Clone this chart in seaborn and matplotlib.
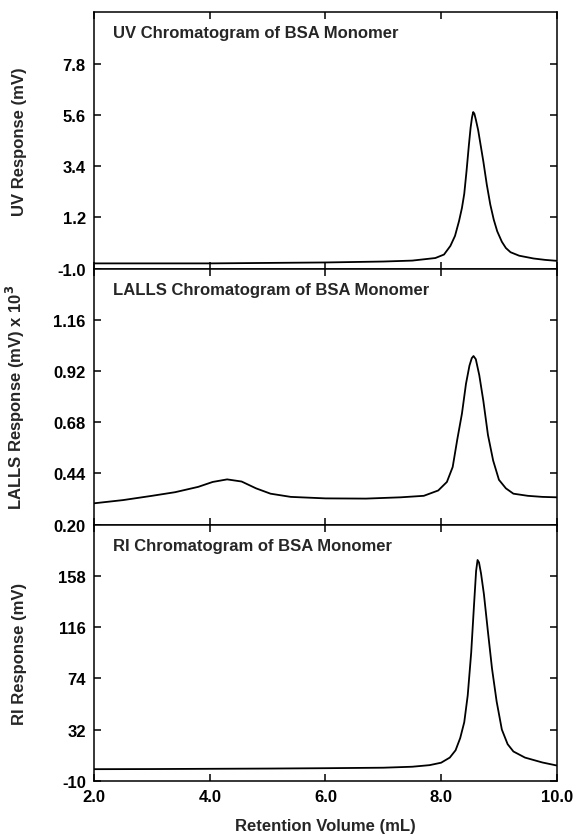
import matplotlib
matplotlib.use("Agg")
import matplotlib.pyplot as plt
import seaborn as sns
import pandas as pd

# chromatogram readings (retention volume in mL, detector response)
uv_volume = [2.0, 3.0, 4.0, 5.0, 6.0, 6.5, 7.0, 7.5, 7.9, 8.05, 8.16, 8.24,
             8.31, 8.36, 8.40, 8.44, 8.48, 8.51, 8.535, 8.555, 8.575, 8.60,
             8.64, 8.69, 8.73, 8.79, 8.85, 8.91, 8.97, 9.05, 9.12, 9.2, 9.35,
             9.6, 9.8, 10.0]
uv_response = [-0.78, -0.78, -0.78, -0.76, -0.74, -0.72, -0.70, -0.66, -0.55,
               -0.40, -0.03, 0.40, 1.04, 1.60, 2.21, 3.20, 4.30, 5.05, 5.50,
               5.72, 5.65, 5.40, 4.95, 4.20, 3.60, 2.60, 1.75, 1.10, 0.60,
               0.15, -0.12, -0.30, -0.45, -0.57, -0.63, -0.67]

lalls_volume = [2.0, 2.5, 3.0, 3.4, 3.8, 4.05, 4.3, 4.55, 4.8, 5.05, 5.4, 6.0,
                6.7, 7.3, 7.7, 7.95, 8.1, 8.2, 8.28, 8.36, 8.43, 8.49, 8.53,
                8.56, 8.60, 8.66, 8.73, 8.81, 8.90, 9.0, 9.12, 9.25, 9.5, 9.75,
                10.0]
lalls_response = [0.300, 0.315, 0.335, 0.352, 0.377, 0.400, 0.412, 0.402,
                  0.370, 0.345, 0.330, 0.323, 0.322, 0.328, 0.335, 0.360,
                  0.400, 0.470, 0.600, 0.720, 0.860, 0.945, 0.980, 0.990,
                  0.975, 0.900, 0.780, 0.620, 0.500, 0.410, 0.370, 0.345,
                  0.335, 0.330, 0.328]

ri_volume = [2.0, 3.0, 4.0, 5.0, 6.0, 7.0, 7.5, 7.8, 8.0, 8.15, 8.25, 8.33,
             8.40, 8.46, 8.52, 8.57, 8.605, 8.63, 8.655, 8.69, 8.74, 8.81,
             8.88, 8.96, 9.05, 9.15, 9.25, 9.45, 9.75, 10.0]
ri_response = [-0.5, -0.4, -0.2, 0.0, 0.3, 0.7, 1.5, 2.8, 4.8, 9, 15, 25, 38,
               60, 95, 135, 162, 171, 169, 160, 143, 112, 82, 55, 32, 20, 14,
               9, 5, 2.5]

x_ticks = [2.0, 4.0, 6.0, 8.0, 10.0]
x_labels = ["2.0", "4.0", "6.0", "8.0", "10.0"]

uv_ticks = [-1.0, 1.2, 3.4, 5.6, 7.8]
lalls_ticks = [0.20, 0.44, 0.68, 0.92, 1.16]
ri_ticks = [-10, 32, 74, 116, 158]

uv_labels = ["-1.0", "1.2", "3.4", "5.6", "7.8"]
lalls_labels = ["0.20", "0.44", "0.68", "0.92", "1.16"]
ri_labels = ["-10", "32", "74", "116", "158"]

panel_titles = ["UV Chromatogram of BSA Monomer",
                "LALLS Chromatogram of BSA Monomer",
                "RI Chromatogram of BSA Monomer"]
y_titles = ["UV Response (mV)", "LALLS Response (mV) x 10$^\\mathbf{3}$",
            "RI Response (mV)"]

sns.set_theme(style="ticks")
plt.rcParams["font.family"] = ["Liberation Sans", "DejaVu Sans"]
plt.rcParams["axes.unicode_minus"] = False
plt.rcParams["font.weight"] = "bold"

fig, axes = plt.subplots(3, 1, figsize=(5.74, 8.37), dpi=100, sharex=True)
fig.subplots_adjust(left=0.164, right=0.970, bottom=0.066, top=0.984,
                    hspace=0)

series = [
    (uv_volume, uv_response, (-1.0, 10.0), uv_ticks, uv_labels),
    (lalls_volume, lalls_response, (0.20, 1.40), lalls_ticks, lalls_labels),
    (ri_volume, ri_response, (-10, 200), ri_ticks, ri_labels),
]

for i, (ax, (vol, resp, ylim, yt, yl)) in enumerate(zip(axes, series)):
    df = pd.DataFrame({"volume": vol, "response": resp})
    sns.lineplot(data=df, x="volume", y="response", ax=ax, color="black",
                 lw=1.3)
    ax.set_xlim(2.0, 10.0)
    ax.set_ylim(*ylim)
    ax.set_yticks(yt)
    ax.set_yticklabels(yl, fontsize=12, fontweight="bold")
    ax.set_xticks(x_ticks)
    ax.tick_params(direction="in", length=5, width=1.1, top=True,
                   right=True, pad=6, colors="black")
    for s in ax.spines.values():
        s.set_linewidth(1.1)
        s.set_color("black")
    ax.set_ylabel(y_titles[i], fontsize=12, fontweight="bold")
    ax.yaxis.set_label_coords(-0.145, 0.5)
    ax.set_xlabel("")
    ax.text(0.04, 0.92, panel_titles[i], transform=ax.transAxes,
            fontsize=12, fontweight="bold", va="center", ha="left")

axes[2].set_xticklabels(x_labels, fontsize=12, fontweight="bold")
axes[2].set_xlabel("Retention Volume (mL)", fontsize=12, fontweight="bold",
                   labelpad=10)

fig.savefig("out.png", dpi=100, facecolor="white")
